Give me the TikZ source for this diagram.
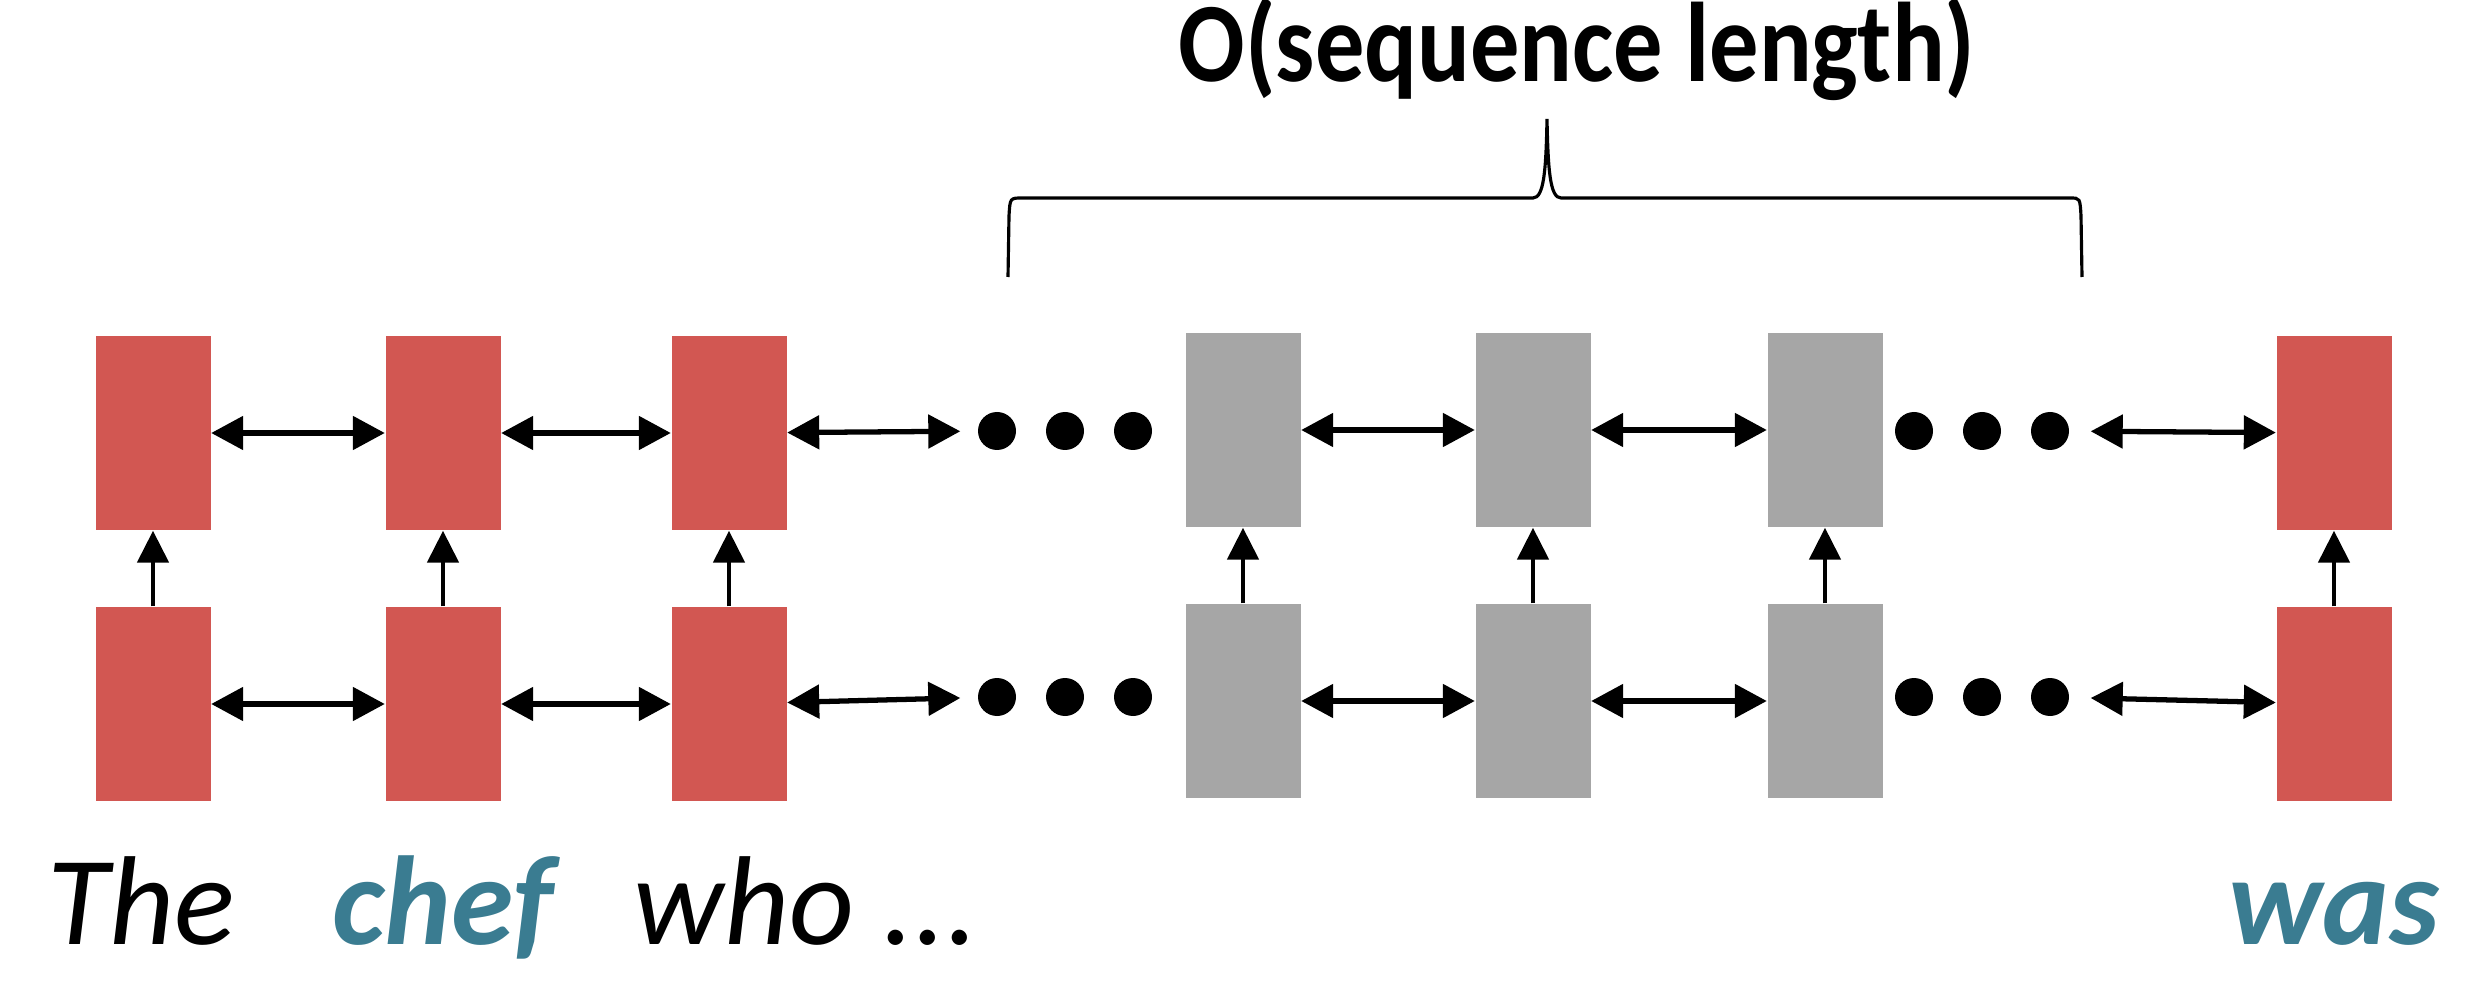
\documentclass[tikz,border=0pt]{standalone}
\usepackage{fontspec}
\setmainfont{Carlito}
\usetikzlibrary{arrows.meta}
\definecolor{cellred}{HTML}{D25752}
\definecolor{cellgray}{HTML}{A6A6A6}
\definecolor{wordteal}{HTML}{3A7C91}
\tikzset{
  cell/.style={rectangle, fill=cellred, minimum width=1.15cm, minimum height=1.94cm, inner sep=0pt},
  gcell/.style={cell, fill=cellgray},
  ellip/.style={circle, fill=black, minimum size=0.38cm, inner sep=0pt},
  pass/.style={<->, >={Triangle[length=0.32cm,width=0.33cm]}, line width=1.5pt},
  feed/.style={->, >={Triangle[length=0.32cm,width=0.31cm]}, line width=1.4pt},
  word/.style={anchor=base west, inner sep=0pt, font=\fontsize{36}{40}\selectfont\itshape},
}
\begin{document}
\begin{tikzpicture}
        \useasboundingbox (0,0) rectangle (24.82,-10.08);
        % top row
        \node[cell] (h1) at (1.53, -4.33) {};
        \node[cell] (h2) at (4.43, -4.33) {};
        \node[cell] (h3) at (7.29, -4.33) {};
        \node[ellip] (d1) at (9.97, -4.31) {};
        \node[ellip] (d2) at (10.65, -4.31) {};
        \node[ellip] (d3) at (11.33, -4.31) {};
        \node[gcell] (h4) at (12.43, -4.30) {};
        \node[gcell] (h5) at (15.33, -4.30) {};
        \node[gcell] (h6) at (18.25, -4.30) {};
        \node[ellip] (d4) at (19.14, -4.31) {};
        \node[ellip] (d5) at (19.82, -4.31) {};
        \node[ellip] (d6) at (20.50, -4.31) {};
        \node[cell] (h7) at (23.34, -4.33) {};
        % bottom row
        \node[cell] (x1) at (1.53, -7.04) {};
        \node[cell] (x2) at (4.43, -7.04) {};
        \node[cell] (x3) at (7.29, -7.04) {};
        \node[ellip] (e1) at (9.97, -6.97) {};
        \node[ellip] (e2) at (10.65, -6.97) {};
        \node[ellip] (e3) at (11.33, -6.97) {};
        \node[gcell] (x4) at (12.43, -7.01) {};
        \node[gcell] (x5) at (15.33, -7.01) {};
        \node[gcell] (x6) at (18.25, -7.01) {};
        \node[ellip] (e4) at (19.14, -6.97) {};
        \node[ellip] (e5) at (19.82, -6.97) {};
        \node[ellip] (e6) at (20.50, -6.97) {};
        \node[cell] (x7) at (23.34, -7.04) {};
        % words
        \node[word] (w1) at (0.47, -9.44) {The};
        \node[word, text=wordteal] (w2) at (3.32, -9.44) {\bfseries chef};
        \node[word] (w3) at (6.33, -9.44) {who ...};
        \node[word, text=wordteal] (w4) at (22.28, -9.44) {\bfseries was};
        % title and brace
        \node[anchor=base, inner sep=0pt, font=\fontsize{28}{34}\selectfont\bfseries] (t) at (15.77, -0.82) {\scalebox{1}[1.15]{O(sequence length)}};
        \coordinate (bl) at (10.08, -2.77);
        \coordinate (br) at (20.82, -2.77);
        \coordinate (bt) at (15.47, -1.19);
        \draw[line width=0.9pt] (bl) -- (10.09, -2.16) .. controls (10.10, -1.98) .. (10.22, -1.98) -- (15.33, -1.98)
          .. controls (15.44, -1.98) and (15.46, -1.70) .. (bt)
          .. controls (15.48, -1.70) and (15.50, -1.98) .. (15.61, -1.98) -- (20.70, -1.98)
          .. controls (20.80, -1.98) .. (20.81, -2.16) -- (br);
        % horizontal links
        \draw[pass] (h1) -- (h2);
        \draw[pass] (h2) -- (h3);
        \draw[pass, shorten >=0.17cm] (h3) -- (d1);
        \draw[pass] (h4) -- (h5);
        \draw[pass] (h5) -- (h6);
        \draw[pass, shorten <=0.21cm] (d6) -- (h7);
        \draw[pass] (x1) -- (x2);
        \draw[pass] (x2) -- (x3);
        \draw[pass, shorten >=0.17cm] (x3) -- (e1);
        \draw[pass] (x4) -- (x5);
        \draw[pass] (x5) -- (x6);
        \draw[pass, shorten <=0.21cm] (e6) -- (x7);
        % vertical links
        \draw[feed] (x1) -- (h1);
        \draw[feed] (x2) -- (h2);
        \draw[feed] (x3) -- (h3);
        \draw[feed] (x4) -- (h4);
        \draw[feed] (x5) -- (h5);
        \draw[feed] (x6) -- (h6);
        \draw[feed] (x7) -- (h7);
\end{tikzpicture}
\end{document}
